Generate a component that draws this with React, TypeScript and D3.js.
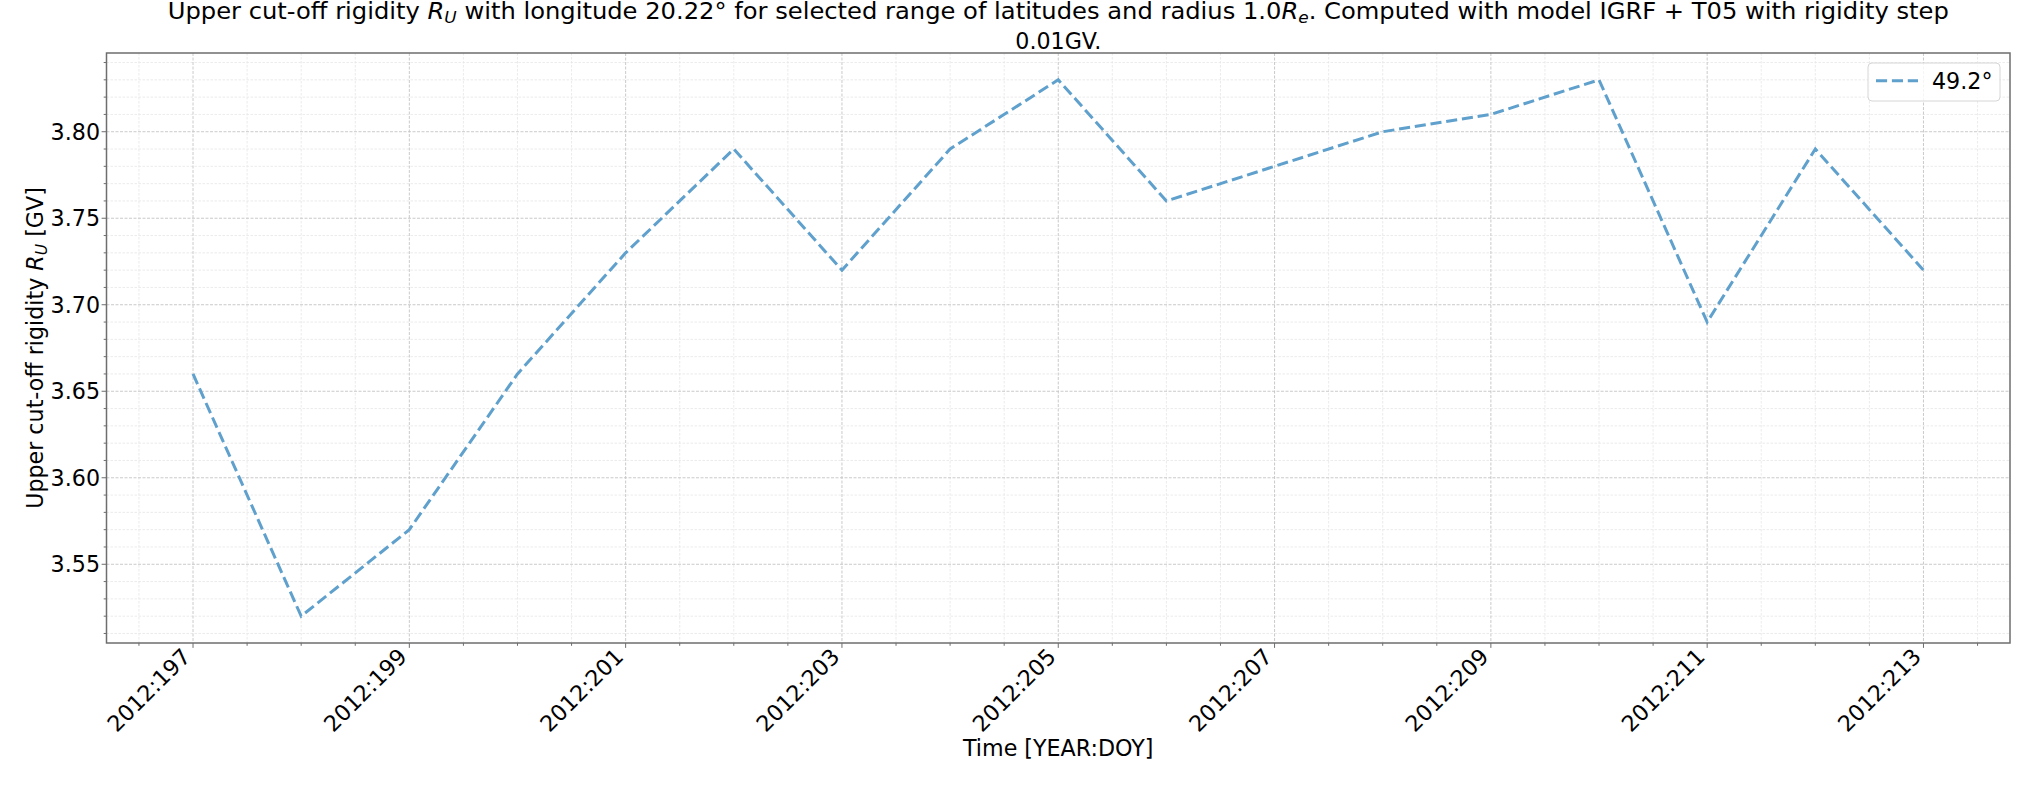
import React from "react";
import * as d3 from "d3";

const days = [197, 198, 199, 200, 201, 202, 203, 204, 205, 206, 207, 208, 209, 210, 211, 212, 213];
const rigidity = [3.66, 3.52, 3.57, 3.66, 3.73, 3.79, 3.72, 3.79, 3.83, 3.76, 3.78, 3.8, 3.81, 3.83, 3.69, 3.79, 3.72];
const xMajorTicks = [197, 199, 201, 203, 205, 207, 209, 211, 213];
const yMajorTicks = [3.55, 3.6, 3.65, 3.7, 3.75, 3.8];
const year = 2012;
const legendLabel = "49.2°";

const W = 2035;
const H = 785;
const L = 106.5;
const R = 2010;
const T = 53;
const B = 643;
const FONT = "'DejaVu Sans', sans-serif";
const LINE_COLOR = "#5fa0cc";
const FS = 22.2;

export default function App() {
  const xMin = d3.min(days)!;
  const xMax = d3.max(days)!;
  const yMin = d3.min(rigidity)!;
  const yMax = d3.max(rigidity)!;
  const xPad = (xMax - xMin) * 0.05;
  const yPad = (yMax - yMin) * 0.05;
  const x = d3.scaleLinear().domain([xMin - xPad, xMax + xPad]).range([L, R]);
  const y = d3.scaleLinear().domain([yMin - yPad, yMax + yPad]).range([B, T]);

  const xMinor = d3.range(Math.ceil((xMin - xPad) * 2) / 2, xMax + xPad, 0.5).filter(
    (v) => !xMajorTicks.includes(v)
  );
  const yMinor = d3
    .range(Math.ceil((yMin - yPad) * 100), Math.floor((yMax + yPad) * 100) + 1)
    .map((v) => v / 100)
    .filter((v) => !yMajorTicks.some((t) => Math.abs(t - v) < 1e-6));

  const line = d3
    .line<number>()
    .x((_, i) => x(days[i]))
    .y((d) => y(d));

  const dash = "11.1,4.8";

  return (
    <svg
      width={W}
      height={H}
      style={{ position: "absolute", left: 0, top: 0, background: "#fff" }}
      fontFamily={FONT}
    >
      <rect x={0} y={0} width={W} height={H} fill="#fff" />
      {/* minor grid */}
      <g stroke="#e6e6e6" strokeWidth={0.8} strokeDasharray="2.5,1.5">
        {xMinor.map((v) => (
          <line key={"xm" + v} x1={x(v)} x2={x(v)} y1={T} y2={B} />
        ))}
        {yMinor.map((v) => (
          <line key={"ym" + v} x1={L} x2={R} y1={y(v)} y2={y(v)} />
        ))}
      </g>
      {/* major grid */}
      <g stroke="#c4c4c4" strokeWidth={0.9} strokeDasharray="3,1.5">
        {xMajorTicks.map((v) => (
          <line key={"xM" + v} x1={x(v)} x2={x(v)} y1={T} y2={B} />
        ))}
        {yMajorTicks.map((v) => (
          <line key={"yM" + v} x1={L} x2={R} y1={y(v)} y2={y(v)} />
        ))}
      </g>
      {/* data line */}
      <path
        d={line(rigidity) || ""}
        fill="none"
        stroke={LINE_COLOR}
        strokeWidth={3}
        strokeDasharray={dash}
      />
      {/* spines */}
      <rect x={L} y={T} width={R - L} height={B - T} fill="none" stroke="#6e6e6e" strokeWidth={1.5} />
      {/* ticks */}
      <g stroke="#6e6e6e" strokeWidth={1}>
        {xMajorTicks.map((v) => (
          <line key={"xt" + v} x1={x(v)} x2={x(v)} y1={B} y2={B + 4.9} />
        ))}
        {xMinor.map((v) => (
          <line key={"xmt" + v} x1={x(v)} x2={x(v)} y1={B} y2={B + 2.8} />
        ))}
        {yMajorTicks.map((v) => (
          <line key={"yt" + v} x1={L - 4.9} x2={L} y1={y(v)} y2={y(v)} />
        ))}
        {yMinor.map((v) => (
          <line key={"ymt" + v} x1={L - 2.8} x2={L} y1={y(v)} y2={y(v)} />
        ))}
      </g>
      {/* y tick labels */}
      <g fontSize={FS} fill="#000" textAnchor="end">
        {yMajorTicks.map((v) => (
          <text key={"yl" + v} x={L - 6.5} y={y(v)} dy="0.36em">
            {v.toFixed(2)}
          </text>
        ))}
      </g>
      {/* x tick labels */}
      <g fontSize={FS} fill="#000" textAnchor="end">
        {xMajorTicks.map((v) => (
          <text
            key={"xl" + v}
            transform={`translate(${x(v) - 1},${B + 15}) rotate(-45)`}
          >
            {`${year}:${v}`}
          </text>
        ))}
      </g>
      {/* axis labels */}
      <text x={(L + R) / 2} y={756} fontSize={FS} textAnchor="middle" fill="#000">
        Time [YEAR:DOY]
      </text>
      <text
        transform={`translate(42.5,${(T + B) / 2}) rotate(-90)`}
        fontSize={FS}
        textAnchor="middle"
        fill="#000"
      >
        {"Upper cut-off rigidity "}
        <tspan fontStyle="italic">R</tspan>
        <tspan fontStyle="italic" fontSize={15.5} dy={4}>
          U
        </tspan>
        <tspan dy={-4}>{" [GV]"}</tspan>
      </text>
      {/* title */}
      <text x={(L + R) / 2} y={19} fontSize={FS} textAnchor="middle" fill="#000" textLength={1781} lengthAdjust="spacingAndGlyphs">
        {"Upper cut-off rigidity "}
        <tspan fontStyle="italic">R</tspan>
        <tspan fontStyle="italic" fontSize={15.5} dy={4}>
          U
        </tspan>
        <tspan dy={-4}>{" with longitude 20.22° for selected range of latitudes and radius 1.0"}</tspan>
        <tspan fontStyle="italic">R</tspan>
        <tspan fontStyle="italic" fontSize={15.5} dy={4}>
          e
        </tspan>
        <tspan dy={-4}>{". Computed with model IGRF + T05 with rigidity step"}</tspan>
      </text>
      <text x={(L + R) / 2} y={49.3} fontSize={FS} textAnchor="middle" fill="#000">
        0.01GV.
      </text>
      {/* legend */}
      <rect x={1868} y={63} width={132} height={38} rx={4} fill="#fff" fillOpacity={0.8} stroke="#d6d6d6" strokeWidth={1} />
      <line x1={1876} x2={1918} y1={80.7} y2={80.7} stroke={LINE_COLOR} strokeWidth={3} strokeDasharray={dash} />
      <text x={1932} y={88.5} fontSize={FS} fill="#000">
        {legendLabel}
      </text>
    </svg>
  );
}
